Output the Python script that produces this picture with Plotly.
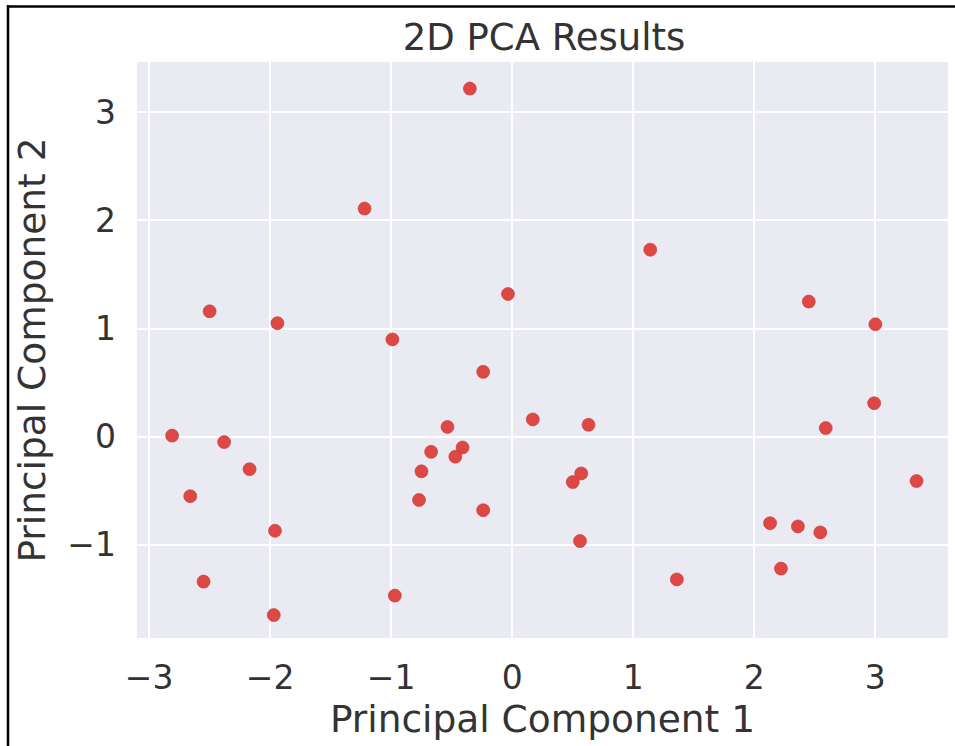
import plotly.graph_objects as go

pc1 = [-0.35, -1.22, 1.14, -0.035, -2.50, -1.94, -0.99, 2.45, 3.00, -0.24,
       2.99, 0.17, 0.63, 2.59, -0.535, -2.81, -2.38, -0.67, -0.41, -0.47,
       -2.17, -0.75, 0.57, 0.50, 3.34, -2.66, -0.77, -0.24, 2.13, 2.36,
       2.545, -1.96, 0.56, 2.22, 1.36, -2.55, -0.97, -1.97]
pc2 = [3.22, 2.11, 1.73, 1.32, 1.16, 1.05, 0.90, 1.25, 1.04, 0.60,
       0.31, 0.16, 0.11, 0.08, 0.09, 0.01, -0.05, -0.14, -0.10, -0.185,
       -0.30, -0.32, -0.34, -0.42, -0.41, -0.55, -0.585, -0.68, -0.80, -0.83,
       -0.885, -0.87, -0.965, -1.22, -1.32, -1.34, -1.47, -1.65]

x_ticks = [-3, -2, -1, 0, 1, 2, 3]
y_ticks = [-1, 0, 1, 2, 3]
x_labels = ["\u22123", "\u22122", "\u22121", "0", "1", "2", "3"]
y_labels = ["\u22121", "0", "1", "2", "3"]

W, H = 955, 746
ML, MR, MT, MB = 137, 7, 62, 108
pw, ph = W - ML - MR, H - MT - MB

def px(x):
    return (x - ML) / pw

def py(y):
    return 1 - (y - MT) / ph

fig = go.Figure()
fig.add_trace(go.Scatter(
    x=pc1, y=pc2, mode="markers",
    marker=dict(size=13, color="rgb(222,72,68)",
                line=dict(width=0.6, color="rgb(195,55,55)")),
    showlegend=False,
))

font = "DejaVu Sans"
txt = "#333333"
fig.update_layout(
    width=W, height=H,
    margin=dict(l=ML, r=MR, t=MT, b=MB),
    paper_bgcolor="white",
    plot_bgcolor="#EAEAF2",
    font=dict(family=font, color=txt),
    title=dict(text="2D PCA Results", x=544 / W, xanchor="center",
               y=1 - 37 / H, yanchor="middle",
               font=dict(size=37, color=txt, family=font)),
    xaxis=dict(range=[-3.10, 3.60], tickvals=x_ticks, ticktext=x_labels,
               showgrid=True, gridcolor="white", gridwidth=2,
               zeroline=False, showline=False, ticks="",
               ticklabelstandoff=17,
               tickfont=dict(size=33, color=txt),
               title=dict(text="Principal Component 1",
                          font=dict(size=37.5, color=txt), standoff=8)),
    yaxis=dict(range=[-1.862, 3.466], tickvals=y_ticks, ticktext=y_labels,
               showgrid=True, gridcolor="white", gridwidth=2,
               zeroline=False, showline=False, ticks="",
               ticklabelstandoff=20,
               tickfont=dict(size=33, color=txt),
               title=dict(text="Principal Component 2",
                          font=dict(size=37.5, color=txt), standoff=10)),
)

# screenshot frame (left and top black border)
fig.add_shape(type="line", xref="paper", yref="paper",
              x0=px(8), x1=px(8), y0=py(5), y1=py(H + 2),
              line=dict(color="black", width=2.5))
fig.add_shape(type="line", xref="paper", yref="paper",
              x0=px(7), x1=px(W + 2), y0=py(6.5), y1=py(6.5),
              line=dict(color="black", width=2.5))

fig.write_html("out.html")
